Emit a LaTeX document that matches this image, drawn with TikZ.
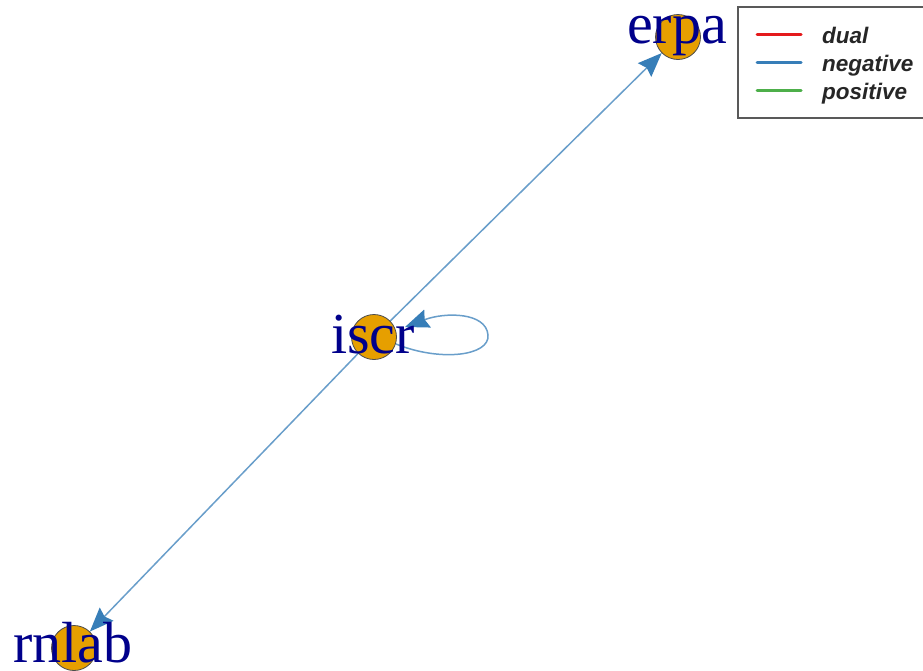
\documentclass[tikz,border=0pt]{standalone}
\usepackage{fontspec}
\setmainfont{Liberation Serif}
\newfontfamily\legfont{Liberation Sans}
\usetikzlibrary{arrows.meta}
\definecolor{vfill}{HTML}{E69F00}
\definecolor{lblue}{HTML}{00008B}
\definecolor{ered}{HTML}{E41A1C}
\definecolor{eblue}{HTML}{377EB8}
\definecolor{egreen}{HTML}{4DAF4A}
\tikzset{
  vert/.style={circle, draw=black!70, line width=0.8pt, fill=vfill, minimum size=45pt, inner sep=0pt},
  vlabel/.style={text=lblue, font=\fontsize{58}{58}\selectfont, anchor=base, inner sep=0pt},
  edgeline/.style={draw=eblue!75!white, line width=1.5pt, -{Stealth[length=24pt,width=19pt,inset=3pt,fill=eblue,color=eblue]}},
  legline/.style={line width=3pt, line cap=round},
  legtext/.style={font=\legfont\bfseries\itshape\fontsize{22.5}{22.5}\selectfont, text=black!85, anchor=base west, inner sep=0pt},
}
\begin{document}
\begin{tikzpicture}[x=1pt,y=-1pt]
\useasboundingbox (0,0) rectangle (923,670);
% vertices (positions)
\coordinate (cerpa) at (678,37);
\coordinate (ciscr) at (374,337);
\coordinate (crnlab) at (74,648);
\node[vert, draw=none, fill=none] (erpa0) at (cerpa) {};
\node[vert, draw=none, fill=none] (iscr0) at (ciscr) {};
\node[vert, draw=none, fill=none] (rnlab0) at (crnlab) {};
% edges
\draw[edgeline] (iscr0) -- (erpa0);
\draw[edgeline] (iscr0) -- (rnlab0);
\coordinate (ls) at (396,344);
\coordinate (lm) at (488,335);
\coordinate (le) at (405,327);
\draw[edgeline] (ls) .. controls (440,362) and (490,356) .. (lm) .. controls (486,312) and (445,312) .. (le);
% vertex circles
\node[vert] (erpa) at (cerpa) {};
\node[vert] (iscr) at (ciscr) {};
\node[vert] (rnlab) at (crnlab) {};
% labels
\node[vlabel] (lerpa) at (677,43) {erpa};
\node[vlabel] (liscr) at (373,353) {iscr};
\node[vlabel] (lrnlab) at (73,662) {rnlab};
% legend
\draw[draw=black!65, line width=1.5pt] (738,7) rectangle (926,118);
\coordinate (r1) at (757,34.5); \coordinate (r2) at (801,34.5);
\coordinate (b1) at (757,62.5); \coordinate (b2) at (801,62.5);
\coordinate (g1) at (757,90.5); \coordinate (g2) at (801,90.5);
\draw[legline, ered] (r1) -- (r2);
\draw[legline, eblue] (b1) -- (b2);
\draw[legline, egreen] (g1) -- (g2);
\node[legtext] (tdual) at (822,43) {dual};
\node[legtext] (tneg) at (822,71.5) {negative};
\node[legtext] (tpos) at (822,99) {positive};
\end{tikzpicture}
\end{document}
